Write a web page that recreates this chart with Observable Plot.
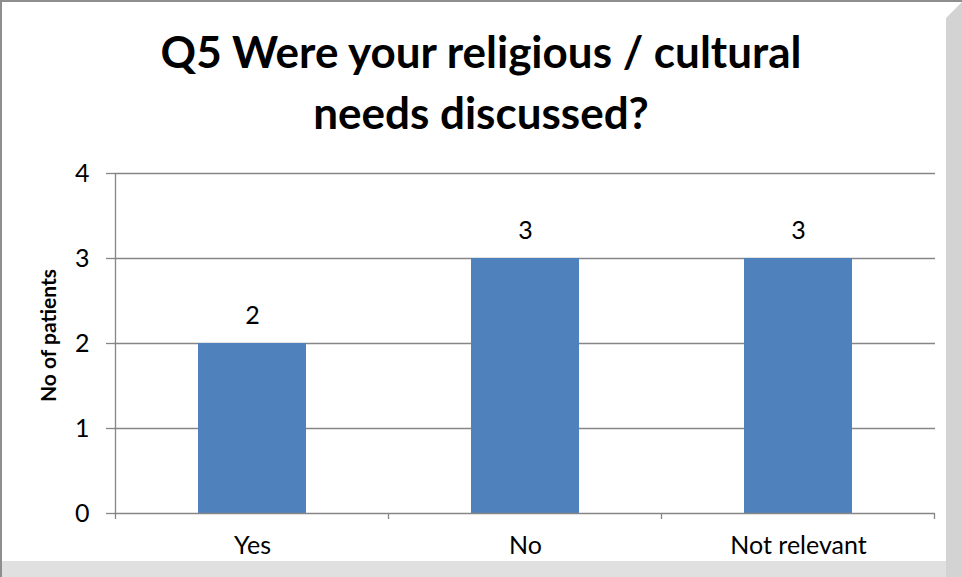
<!DOCTYPE html>
<html><head><meta charset="utf-8">
<script src="https://cdn.jsdelivr.net/npm/d3@7"></script>
<script src="https://cdn.jsdelivr.net/npm/@observablehq/plot@0.6"></script>
<style>
body{margin:0;background:#fff;}
#wrap{position:relative;width:962px;height:577px;overflow:hidden;background:#fff;font-family:Lato,sans-serif;}
#bt{position:absolute;left:0;top:0;width:962px;height:2px;background:#8e8e8e;}
#bl{position:absolute;left:0;top:0;width:2px;height:577px;background:#8e8e8e;}
#shR{position:absolute;left:946px;top:2px;width:16px;height:575px;background:#d3d3d3;clip-path:polygon(0 16px,100% 0,100% 100%,0 100%);}
#shB{position:absolute;left:2px;top:561px;width:944px;height:16px;background:#e0e0e0;}
#title{position:absolute;left:0;top:21px;width:962px;text-align:center;font-weight:bold;font-size:44px;line-height:61px;color:#000;}
#chart{position:absolute;left:0;top:0;}
#chart svg text{font-family:Lato,sans-serif;}
</style></head>
<body>
<div id="wrap">
  <div id="shR"></div><div id="shB"></div><div id="bt"></div><div id="bl"></div>
  <div id="title"></div>
  <div id="chart"></div>
</div>
<script>
const titleLines = ["Q5 Were your religious / cultural", "needs discussed?"];
const categories = ["Yes", "No", "Not relevant"];
const patients = [2, 3, 3];
const yTicks = [0, 1, 2, 3, 4];
const yLabel = "No of patients";

document.getElementById("title").innerHTML = titleLines.join("<br>");
const data = categories.map((c, i) => ({category: c, value: patients[i]}));
const grey = "#868686";

const chart = Plot.plot({
  width: 962, height: 577,
  marginTop: 173, marginBottom: 64, marginLeft: 114, marginRight: 27,
  style: {fontFamily: "Lato, sans-serif", fontSize: "25px", color: "#000", background: "transparent", overflow: "visible"},
  x: {domain: categories, paddingInner: 0.605, paddingOuter: 0.3025, axis: null},
  y: {domain: [0, 4], axis: null},
  marks: [
    Plot.ruleY(yTicks.filter(t => t > 0), {stroke: grey, strokeWidth: 1.3}),
    Plot.barY(data, {x: "category", y: "value", fill: "#4F81BD"}),
    Plot.ruleY([0], {stroke: grey, strokeWidth: 1.3}),
    Plot.text(data, {x: "category", y: "value", text: d => String(d.value), lineAnchor: "bottom", dy: -20, fill: "#000", fontSize: 25}),
    Plot.axisY({ticks: yTicks, tickSize: 8, tickPadding: 17, stroke: grey, fill: "#000", strokeWidth: 1.3, label: null, fontSize: 25, tickFormat: d => String(d)}),
    Plot.axisX({tickSize: 0, tickPadding: 23, fill: "#000", label: null, fontSize: 25}),
    Plot.text([yLabel], {frameAnchor: "left", textAnchor: "middle", text: d => d, rotate: -90, dx: -65, dy: -8, fontWeight: "bold", fontSize: 21, fill: "#000"})
  ]
});
document.getElementById("chart").appendChild(chart);

// axis line and category boundary ticks derived from the scales
const xs = chart.scale("x"), ys = chart.scale("y");
const step = xs.step, bw = xs.bandwidth;
const y0 = ys.apply(0), yTop = ys.apply(yTicks[yTicks.length - 1]);
const bounds = categories.map(c => xs.apply(c) - (step - bw) / 2);
bounds.push(xs.apply(categories[categories.length - 1]) + bw + (step - bw) / 2);
const g = d3.select(chart).append("g").attr("stroke", grey).attr("stroke-width", 1.3);
g.append("line").attr("x1", bounds[0]).attr("x2", bounds[0]).attr("y1", yTop).attr("y2", y0 + 6);
g.selectAll("line.b").data(bounds.slice(1)).join("line").attr("class", "b")
  .attr("x1", d => d).attr("x2", d => d).attr("y1", y0).attr("y2", y0 + 6);
</script>
</body></html>
